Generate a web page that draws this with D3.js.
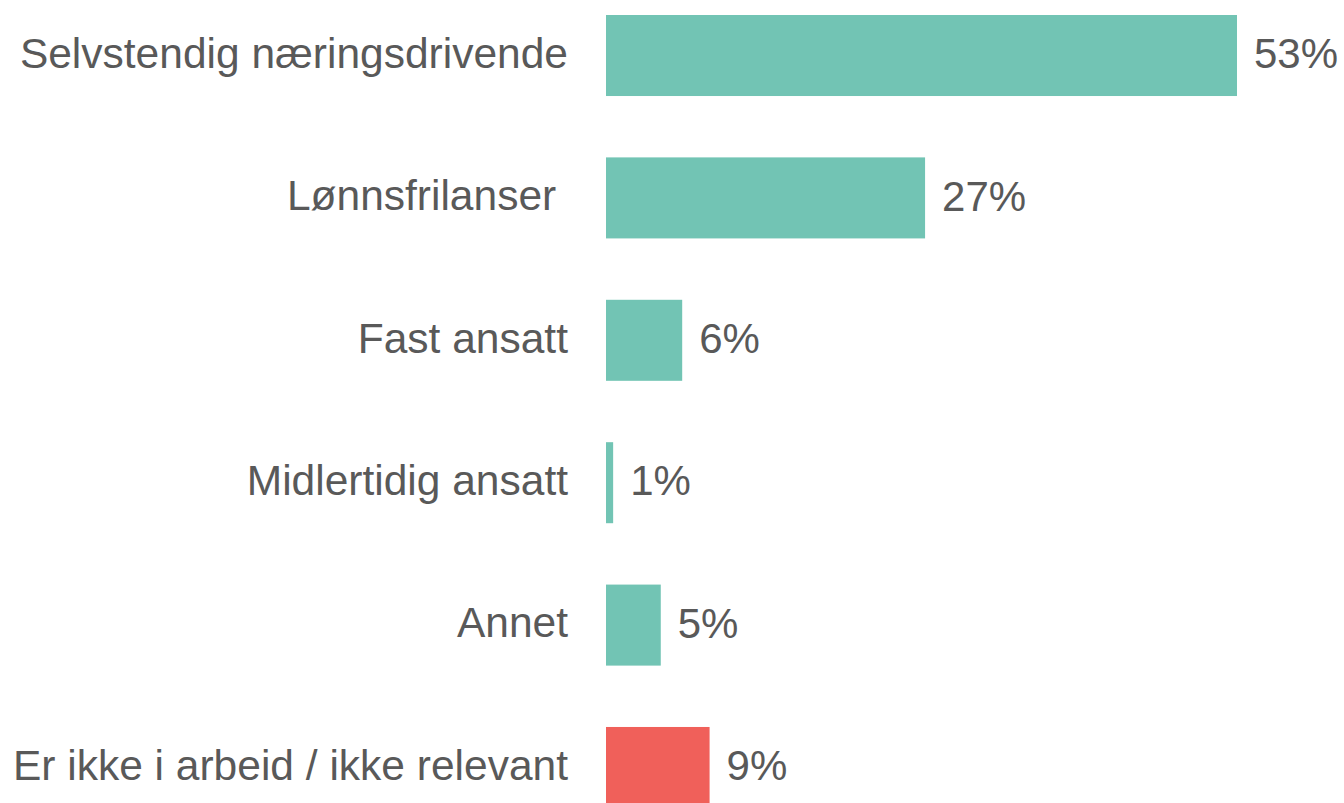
<!DOCTYPE html>
<html>
<head>
    <meta charset="UTF-8">
    <title>Arbeidsforhold</title>
    <script src="https://cdn.jsdelivr.net/npm/d3@7"></script>
    <style>
        html, body { margin: 0; padding: 0; background: #fff; }
        text { font-family: "Liberation Sans", Arial, sans-serif; fill: #595959; white-space: pre; }
    </style>
</head>
<body>
    <div id="chart"></div>
    <script>
        // kategorier og verdier (prosent)
        var categories = ["Selvstendig næringsdrivende", "Lønnsfrilanser ", "Fast ansatt",
            "Midlertidig ansatt", "Annet", "Er ikke i arbeid / ikke relevant"];
        var values = [53.0, 26.8, 6.4, 0.6, 4.6, 8.7];
        var valueLabels = ["53%", "27%", "6%", "1%", "5%", "9%"];
        var barColors = ["#72C4B4", "#72C4B4", "#72C4B4", "#72C4B4", "#72C4B4", "#F0605A"];

        var width = 1344, height = 803;

        var svg = d3.select("#chart").append("svg")
            .attr("width", width)
            .attr("height", height);

        // skalaer
        var x = d3.scaleLinear()
            .domain([0, 53])
            .range([606, 1237]);

        var y = d3.scaleBand()
            .domain(categories)
            .range([15, 808])
            .paddingInner(0.431)
            .paddingOuter(0);

        var rows = categories.map(function (c, i) {
            return { cat: c, value: values[i], label: valueLabels[i], color: barColors[i] };
        });

        // stolper
        svg.append("g").selectAll("rect")
            .data(rows)
            .enter().append("rect")
            .attr("x", x(0))
            .attr("y", function (d) { return y(d.cat); })
            .attr("width", function (d) { return x(d.value) - x(0); })
            .attr("height", y.bandwidth())
            .attr("fill", function (d) { return d.color; });

        // kategorinavn
        svg.append("g").selectAll("text")
            .data(rows)
            .enter().append("text")
            .attr("x", 568)
            .attr("y", function (d) { return y(d.cat) + y.bandwidth() / 2; })
            .attr("dy", "0.29em")
            .attr("text-anchor", "end")
            .attr("font-size", "42.5px")
            .text(function (d) { return d.cat; });

        // verdier
        svg.append("g").selectAll("text")
            .data(rows)
            .enter().append("text")
            .attr("x", function (d) { return x(d.value) + 17; })
            .attr("y", function (d) { return y(d.cat) + y.bandwidth() / 2; })
            .attr("dy", "0.3em")
            .attr("font-size", "42px")
            .text(function (d) { return d.label; });
    </script>
</body>
</html>
